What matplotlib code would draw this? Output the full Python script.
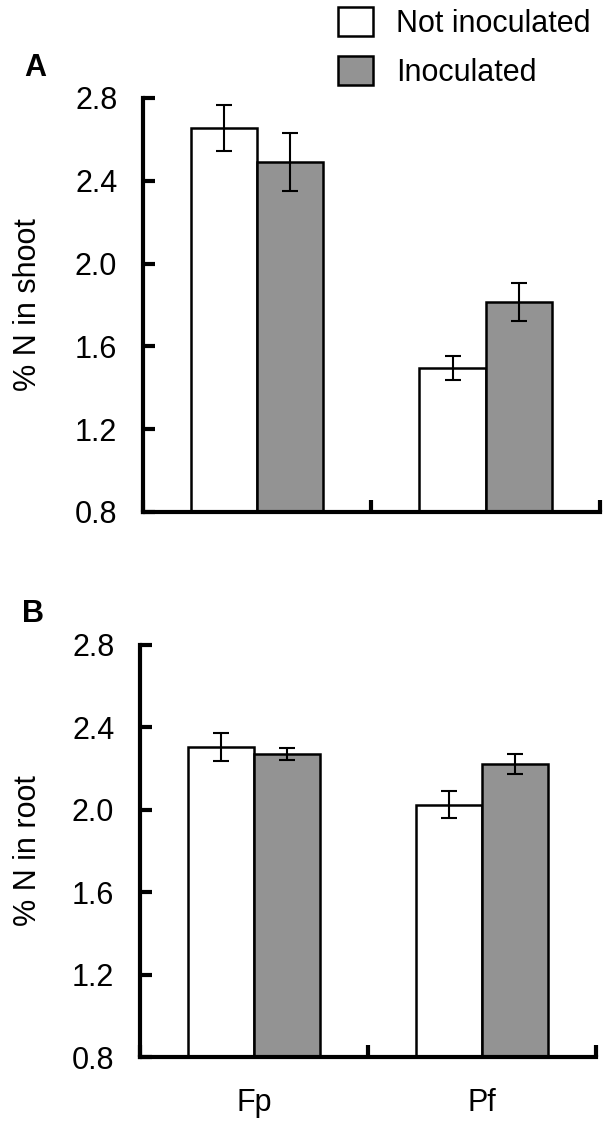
import matplotlib

matplotlib.use('Agg')

import matplotlib.pyplot as plt
import numpy as np


categories = ['Fp', 'Pf']
series_names = ['Not inoculated', 'Inoculated']
series_colors = ['white', '#939393']

shoot_means = [[2.655, 1.494], [2.493, 1.815]]
shoot_errs = [[0.11, 0.058], [0.14, 0.093]]
root_means = [[2.305, 2.025], [2.27, 2.222]]
root_errs = [[0.07, 0.064], [0.03, 0.047]]

y_ticks = [0.8, 1.2, 1.6, 2.0, 2.4, 2.8]


def draw_panel(ax, means, errs, ylabel, label_x, show_xlabels):
    x = np.arange(len(categories))
    width = 0.29
    bars = []
    for i, (m, e) in enumerate(zip(means, errs)):
        offset = (i - 0.5) * width
        b = ax.bar(x + offset, [v - 0.8 for v in m], width, bottom=0.8,
                   color=series_colors[i], edgecolor='black', linewidth=1.8,
                   zorder=2, label=series_names[i])
        ax.errorbar(x + offset, m, yerr=e, fmt='none', ecolor='black',
                    elinewidth=1.5, capsize=6, capthick=1.5, zorder=3)
        bars.append(b)

    ax.set_xlim(-0.5, len(categories) - 0.5)
    ax.set_ylim(0.8, 2.8)
    ax.set_yticks(y_ticks)
    ax.set_yticklabels([f'{t:.1f}' for t in y_ticks])
    ax.set_xticks([-0.5, 0.5, 1.5])
    ax.set_xticklabels([])
    if show_xlabels:
        ax.set_xticks(x, minor=True)
        ax.set_xticklabels(categories, minor=True)
    ax.tick_params(axis='x', which='minor', length=0, pad=22, labelsize=22)
    ax.tick_params(axis='x', which='major', direction='in', length=8.5, width=3)
    ax.tick_params(axis='y', direction='in', length=8.5, width=3, pad=18.5, labelsize=22)
    for side in ['top', 'right']:
        ax.spines[side].set_visible(False)
    for side in ['left', 'bottom']:
        ax.spines[side].set_linewidth(3)
    ax.set_ylabel(ylabel, fontsize=22)
    ax.yaxis.set_label_coords(label_x, 0.5)
    return bars


def main() -> None:
    plt.rcParams['font.family'] = ['Liberation Sans', 'DejaVu Sans']

    fig = plt.figure(figsize=(6.1, 11.25), dpi=100)
    ax_a = fig.add_axes([0.2344, 0.5449, 0.749, 0.368])
    ax_b = fig.add_axes([0.2295, 0.0604, 0.7475, 0.3663])

    bars = draw_panel(ax_a, shoot_means, shoot_errs, '% N in shoot', -0.219, False)
    draw_panel(ax_b, root_means, root_errs, '% N in root', -0.213, True)

    fig.text(0.040, 0.940, 'A', fontsize=22, fontweight='bold', va='center')
    fig.text(0.036, 0.454, 'B', fontsize=22, fontweight='bold', va='center')

    fig.legend(handles=bars, labels=series_names, loc='upper left',
               bbox_to_anchor=(338 / 610, 1 - 7 / 1125), frameon=False, fontsize=22,
               handlelength=1.14, handleheight=1.08, handletextpad=0.75,
               labelspacing=0.55, borderpad=0, borderaxespad=0)

    fig.savefig('out.png', dpi=100)
    plt.close(fig)


if __name__ == '__main__':
    main()
